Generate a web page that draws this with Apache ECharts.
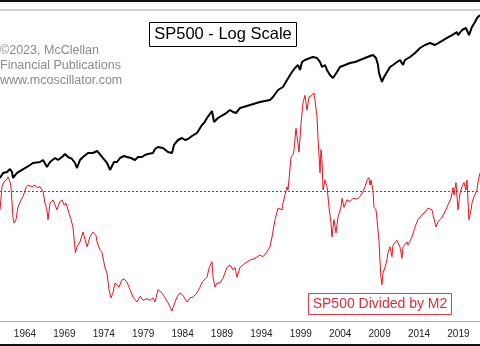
<!DOCTYPE html>
<html><head><meta charset="utf-8">
<script src="https://cdn.jsdelivr.net/npm/echarts@6/dist/echarts.min.js"></script>
<style>html,body{margin:0;padding:0;background:#fff}#c{width:480px;height:346px}</style>
</head><body><div id="c"></div>
<script>
// S&P 500 (log scale), approximate samples
const sp500Dates = [1960.83,1961.21,1961.72,1962.10,1962.35,1962.48,1962.99,1963.62,1964.26,1965.02,1965.91,1966.29,1966.79,1967.18,1967.81,1968.19,1968.70,1969.08,1969.46,1969.97,1970.35,1970.60,1970.98,1971.36,1972.00,1972.63,1973.14,1973.39,1973.90,1974.41,1974.79,1975.04,1975.30,1975.68,1976.06,1976.57,1976.95,1977.45,1977.96,1978.34,1978.85,1979.23,1979.61,1980.24,1980.50,1980.88,1981.51,1982.15,1982.66,1982.91,1983.42,1983.93,1984.31,1984.69,1985.19,1985.83,1986.08,1986.46,1986.72,1987.10,1987.73,1987.99,1988.49,1989.38,1990.02,1990.40,1990.78,1991.29,1992.56,1993.82,1995.09,1995.47,1996.11,1996.74,1997.25,1997.88,1998.26,1998.65,1998.90,1999.15,1999.53,2000.17,2000.55,2001.05,2001.44,2001.69,2002.07,2002.32,2002.70,2003.08,2003.34,2003.59,2003.97,2004.61,2005.24,2005.88,2006.51,2007.15,2007.78,2008.16,2008.54,2008.80,2008.92,2009.30,2009.56,2009.94,2010.32,2010.70,2011.21,2011.59,2011.97,2012.22,2012.86,2013.49,2014.13,2014.76,2015.40,2016.03,2016.66,2017.55,2018.19,2018.82,2018.95,2019.46,2019.96,2020.09,2020.34,2020.72,2021.11,2021.36,2021.74];
const sp500Values = [52.0,59.8,61.5,66.8,61.5,52.0,59.8,65.0,70.6,78.9,81.1,85.7,70.6,81.1,90.6,85.7,93.2,101.3,93.2,88.2,78.9,68.6,85.7,93.2,104.1,104.1,110.1,104.1,90.6,78.9,65.0,63.2,81.1,81.1,90.6,95.8,93.2,90.6,85.7,93.2,93.2,98.5,101.3,104.1,116.4,123.0,119.7,107.1,104.1,130.1,149.4,158.0,149.4,153.6,167.0,181.5,186.6,226.6,239.6,275.3,334.4,246.4,275.3,307.7,343.8,325.3,316.3,363.5,395.0,429.4,453.9,493.3,599.3,651.4,791.0,988.0,1104,1200,1044.6,1305,1379,1458,1499,1458,1305,1135,1200,1044.6,909,836,909,988,1135,1200,1269,1305,1379,1458,1541,1585,1458,1200,961,748.4,859.8,988,1135,1200,1305,1379,1200,1379,1499,1675,1924,2091,2210,2091,2272,2541,2745,3001,2745,3172,3354,3449,2745,3449,3962,4428,4813];

// S&P 500 divided by M2 money supply
const ratioDates = [1960.83,1961.08,1961.34,1961.72,1961.84,1962.10,1962.22,1962.48,1962.61,1962.86,1963.11,1963.49,1963.75,1964.13,1964.38,1964.89,1965.27,1965.52,1965.91,1966.29,1966.54,1966.79,1966.92,1967.18,1967.56,1967.81,1968.06,1968.44,1968.70,1968.95,1969.21,1969.46,1969.84,1970.09,1970.40,1970.60,1970.98,1971.36,1971.87,1972.25,1972.63,1973.01,1973.14,1973.52,1973.77,1974.15,1974.41,1974.66,1974.91,1975.17,1975.42,1975.67,1975.93,1976.31,1976.57,1976.95,1977.33,1977.71,1978.21,1978.60,1978.98,1979.48,1979.86,1980.25,1980.50,1980.88,1981.39,1981.77,1982.15,1982.66,1982.78,1983.29,1983.67,1984.05,1984.56,1984.94,1985.32,1985.83,1986.21,1986.46,1986.71,1987.10,1987.35,1987.73,1987.86,1988.11,1988.37,1988.75,1989.13,1989.64,1990.02,1990.40,1990.65,1990.90,1991.29,1991.92,1992.56,1993.19,1993.82,1994.20,1994.71,1995.09,
  1995.35,1995.73,1996.11,1996.62,1996.74,1997.25,1997.38,1997.76,1998.01,1998.14,1998.39,1998.52,1998.77,1999.03,1999.28,1999.53,1999.79,2000.04,2000.42,2000.68,2000.80,2001.06,2001.18,2001.44,2001.56,2001.69,2001.82,2002.07,2002.33,2002.58,2002.83,2002.96,2003.21,2003.47,2003.72,2004.10,2004.23,2004.48,2004.86,2005.25,2005.63,2006.13,2006.51,2006.89,2007.15,2007.40,2007.65,2007.78,2007.91,2008.16,2008.29,2008.54,2008.67,2008.92,2009.04,
  2009.17,2009.30,2009.43,2009.68,2009.93,2010.06,2010.31,2010.57,2010.70,2011.20,2011.58,2011.84,2011.97,2012.48,2012.60,2013.11,2013.49,2013.87,2014.38,2014.76,2015.14,2015.65,2015.78,2016.16,2016.41,2016.66,2016.92,2017.04,2017.42,2017.68,2018.06,2018.31,2018.44,2018.69,2018.95,2019.20,2019.46,2019.71,2019.96,2020.09,2020.34,2020.60,2020.72,2020.98,2021.36,2021.49,2021.74];
const ratioValues = [0.177,0.205,0.211,0.214,0.217,0.211,0.205,0.168,0.161,0.165,0.180,0.189,0.193,0.204,0.207,0.205,0.207,0.204,0.205,0.199,0.185,0.177,0.165,0.185,0.189,0.183,0.177,0.187,0.189,0.183,0.185,0.177,0.165,0.156,0.125,0.132,0.138,0.150,0.132,0.144,0.150,0.146,0.138,0.128,0.125,0.107,0.100,0.080,0.070,0.076,0.088,0.089,0.083,0.092,0.093,0.089,0.080,0.071,0.065,0.072,0.067,0.069,0.067,0.070,0.065,0.080,0.076,0.070,0.064,0.054,0.058,0.071,0.076,0.073,0.065,0.070,0.071,0.076,0.083,0.089,0.088,0.095,0.106,0.114,0.095,0.083,0.088,0.088,0.094,0.107,0.110,0.104,0.107,0.095,0.107,0.112,0.116,0.118,0.122,0.120,0.126,0.132,
  0.144,0.165,0.179,0.177,0.185,0.205,0.201,0.241,0.244,0.250,0.276,0.278,0.247,0.282,0.307,0.316,0.298,0.314,0.316,0.319,0.310,0.290,0.265,0.222,0.250,0.238,0.201,0.213,0.205,0.180,0.161,0.144,0.165,0.149,0.168,0.180,0.191,0.180,0.189,0.187,0.191,0.190,0.193,0.199,0.205,0.213,0.216,0.207,0.213,0.201,0.180,0.177,0.165,0.140,0.116,
  0.095,0.086,0.100,0.107,0.116,0.125,0.132,0.120,0.134,0.140,0.132,0.118,0.132,0.138,0.134,0.144,0.156,0.165,0.171,0.174,0.179,0.177,0.171,0.156,0.162,0.165,0.168,0.167,0.177,0.183,0.191,0.204,0.195,0.210,0.177,0.197,0.205,0.210,0.201,0.213,0.165,0.177,0.185,0.193,0.201,0.211,0.222];
const ratioReference = 0.2035;

const yearLabels = [1964,1969,1974,1979,1984,1989,1994,1999,2004,2009,2014,2019];

const chart = echarts.init(document.getElementById('c'), null, {renderer:'canvas'});
const sp500Data = sp500Dates.map((d,i)=>[d, sp500Values[i]]);
const ratioData = ratioDates.map((d,i)=>[d, ratioValues[i]]);
const FONT = '"Liberation Sans", Arial, sans-serif';
chart.setOption({
  animation: false,
  backgroundColor: '#fff',
  grid: {left: 0, right: 0, top: 11, bottom: 25},
  xAxis: {
    type: 'value', min: 1960.83, max: 2021.74,
    splitLine: {show: false},
    axisTick: {show: false},
    axisLine: {show: true, lineStyle: {color: '#a8a8a8', width: 1}},
    axisLabel: {customValues: yearLabels, formatter: v => String(Math.round(v)), color: '#222', fontFamily: FONT, fontSize: 10, margin: 8}
  },
  yAxis: [
    {type: 'log', min: 0.979, max: 5378, show: false, splitLine: {show: false}},
    {type: 'value', min: 0.0419, max: 0.4185, show: false, splitLine: {show: false}}
  ],
  series: [
    {type: 'line', data: ratioData, yAxisIndex: 1, showSymbol: false, lineStyle: {color: '#e8141e', width: 1},
     markLine: {silent: true, symbol: 'none', label: {show: false}, lineStyle: {color: '#555', type: [2,2], width: 1}, data: [{yAxis: ratioReference}]}},
    {type: 'line', data: sp500Data, yAxisIndex: 0, showSymbol: false, lineStyle: {color: '#000', width: 2}}
  ],
  graphic: [
    {type: 'rect', shape: {x: 0, y: 0, width: 480, height: 2}, style: {fill: '#111'}},
    {type: 'rect', shape: {x: 0, y: 9, width: 480, height: 2}, style: {fill: '#d2d2d2'}},
    {type: 'rect', shape: {x: 0, y: 344, width: 480, height: 2}, style: {fill: '#111'}},
    {type: 'rect', shape: {x: 149.5, y: 22.5, width: 147, height: 24}, style: {fill: '#fff', stroke: '#000', lineWidth: 1}},
    {type: 'text', x: 223, y: 34.5, style: {text: 'SP500 - Log Scale', fill: '#000', font: '16.5px ' + FONT, align: 'center', verticalAlign: 'middle'}},
    {type: 'text', x: 0, y: 51, style: {text: '\u00a92023, McClellan', fill: '#8a8a8a', font: '12.5px ' + FONT, verticalAlign: 'middle'}},
    {type: 'text', x: 0, y: 65.5, style: {text: 'Financial Publications', fill: '#8a8a8a', font: '12.5px ' + FONT, verticalAlign: 'middle'}},
    {type: 'text', x: 0, y: 80.5, style: {text: 'www.mcoscillator.com', fill: '#8a8a8a', font: '12.5px ' + FONT, verticalAlign: 'middle'}},
    {type: 'rect', shape: {x: 308.5, y: 293.5, width: 143, height: 21}, style: {fill: '#fff', stroke: '#dd3b45', lineWidth: 1}},
    {type: 'text', x: 380, y: 304.5, style: {text: 'SP500 Divided by M2', fill: '#d8303b', font: '14px ' + FONT, align: 'center', verticalAlign: 'middle'}}
  ]
});
</script></body></html>
